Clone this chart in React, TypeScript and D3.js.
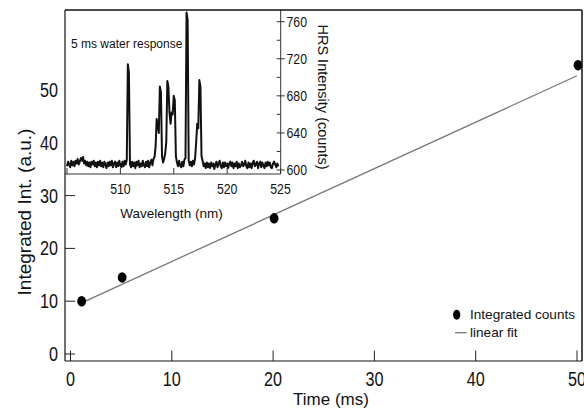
import React from "react";
import * as d3 from "d3";

// ---- Main chart data ----
const timeMs = [1.1, 5.1, 20.1, 50.1];
const integratedCounts = [10.0, 14.5, 25.7, 54.7];
const fitTime = [1, 50];
const fitValue = [9.6, 52.7];
const mainXTicks = [0, 10, 20, 30, 40, 50];
const mainYTicks = [0, 10, 20, 30, 40, 50];

// ---- Inset spectrum data ----
const wlStart = 505.0;
const wlStep = 0.1;
const hrsCounts = [
  604, 609, 606, 603, 610, 605, 609, 604, 610, 607, 612, 606, 609, 613, 610,
  614, 607, 610, 605, 609, 604, 608, 603, 609, 606, 610, 604, 608, 603, 609,
  605, 610, 604, 608, 603, 609, 606, 602, 608, 604, 609, 605, 610, 603, 607,
  609, 603, 608, 604, 610, 605, 603, 609, 604, 610, 606, 611,
  714, 705,
  606,
  603, 609, 604, 608, 602, 609, 605, 610, 603, 607, 604, 610, 605, 603, 609,
  604, 610, 603, 608, 611, 605, 612, 614,
  625, 655, 648, 640, 690, 684, 615, 608, 612, 618, 630, 696, 690, 662, 650, 662, 660, 680, 675, 615, 608,
  604, 610, 605, 603, 609, 604, 611,
  613, 770, 762, 610,
  605, 609, 604, 610, 606, 613,
  630, 650, 645, 697, 690, 615,
  610, 604, 607, 602, 608, 603, 607, 602, 608, 604, 607, 601, 606, 609, 603, 607, 610, 604, 602, 608,
  603, 608, 604, 607, 602, 607, 609, 604, 608, 602, 607, 604, 609, 602, 607, 603, 605, 609, 604, 606,
  610, 604, 602, 608, 603, 607, 602, 608, 610, 604, 606, 609, 602, 607, 609, 603, 608, 605, 602, 608,
  604, 609, 605, 608, 603, 602, 607, 609, 606, 603, 607, 604,
];
const insetXTicks = [505, 510, 515, 520, 525];
const insetXLabels = [510, 515, 520, 525];
const insetYMajor = [600, 640, 680, 720, 760];
const insetYMinor = [620, 660, 700, 740];

const FONT = "'Liberation Sans', Arial, Helvetica, sans-serif";

export default function App() {
  const W = 584, H = 409;
  const left = 65, top = 10, right = 582, bottom = 361;
  const x = d3.scaleLinear().domain([0, 50]).range([70.5, 577]);
  const y = d3.scaleLinear().domain([0, 50]).range([354, 90]);

  const iLeft = 65, iTop = 10, iRight = 280.7, iBottom = 174;
  const ix = d3.scaleLinear().domain([505, 525]).range([67, 280.5]);
  const iy = d3.scaleLinear().domain([600, 760]).range([170, 21.7]);

  const spectrum = hrsCounts.map((c, i) => [wlStart + i * wlStep, c] as [number, number]);
  const specLine = d3
    .line<[number, number]>()
    .x((d) => ix(d[0]))
    .y((d) => iy(d[1]))(spectrum);

  const fitPath = d3
    .line<number>()
    .x((d) => x(d))
    .y((_, i) => y(fitValue[i]))(fitTime);

  return (
    <svg width={W} height={H} style={{ position: "absolute", left: 0, top: 0, background: "#fff" }}>
      <path d={fitPath || ""} stroke="#777" strokeWidth={1.3} fill="none" />
      {timeMs.map((t, i) => (
        <ellipse key={i} cx={x(t)} cy={y(integratedCounts[i])} rx={4.4} ry={5.2} fill="#000" />
      ))}

      {mainYTicks.map((v) => (
        <line key={"yt" + v} x1={left} x2={left + 10} y1={y(v)} y2={y(v)} stroke="#222" strokeWidth={1} />
      ))}
      {mainXTicks.map((v) => (
        <line key={"xt" + v} x1={x(v)} x2={x(v)} y1={bottom} y2={bottom - 10.5} stroke="#222" strokeWidth={1} />
      ))}

      <rect x={iLeft} y={iTop} width={iRight - iLeft} height={iBottom - iTop} fill="#fff" />
      <path d={specLine || ""} stroke="#111" strokeWidth={2} fill="none" strokeLinejoin="round" />
      <line x1={iLeft} x2={iRight} y1={iBottom} y2={iBottom} stroke="#333" strokeWidth={1} />
      <line x1={iRight} x2={iRight} y1={iTop} y2={iBottom} stroke="#333" strokeWidth={1} />
      {insetXTicks.map((v) => (
        <line key={"ixt" + v} x1={ix(v)} x2={ix(v)} y1={iBottom} y2={iBottom - 6} stroke="#333" strokeWidth={1} />
      ))}
      {insetXLabels.map((v) => (
        <text
          key={"ixl" + v}
          x={ix(v)}
          y={193.5}
          fontFamily={FONT}
          fontSize={15}
          textAnchor="middle"
          fill="#111"
          textLength={20.5}
          lengthAdjust="spacingAndGlyphs"
        >
          {v}
        </text>
      ))}
      {insetYMajor.map((v) => (
        <line key={"iym" + v} x1={iRight - 4} x2={iRight + 4} y1={iy(v)} y2={iy(v)} stroke="#333" strokeWidth={1} />
      ))}
      {insetYMinor.map((v) => (
        <line key={"iyn" + v} x1={iRight - 4} x2={iRight} y1={iy(v)} y2={iy(v)} stroke="#333" strokeWidth={1} />
      ))}
      {insetYMajor.map((v) => (
        <text
          key={"iyl" + v}
          x={286.5}
          y={iy(v) + 5.3}
          fontFamily={FONT}
          fontSize={15}
          fill="#111"
          textLength={20.5}
          lengthAdjust="spacingAndGlyphs"
        >
          {v}
        </text>
      ))}
      <text x={71} y={48.3} fontFamily={FONT} fontSize={12} fill="#111">
        5 ms water response
      </text>
      <text x={171.5} y={218} fontFamily={FONT} fontSize={13.5} textAnchor="middle" fill="#111">
        Wavelength (nm)
      </text>
      <text transform={`translate(318,97) rotate(90)`} fontFamily={FONT} fontSize={14.5} textAnchor="middle" fill="#111">
        HRS Intensity (counts)
      </text>

      <line x1={left} x2={left} y1={top} y2={bottom} stroke="#111" strokeWidth={1.2} />
      <line x1={left} x2={right} y1={bottom} y2={bottom} stroke="#111" strokeWidth={1.2} />
      <line x1={left} x2={right} y1={top} y2={top} stroke="#111" strokeWidth={1.5} />
      <line x1={right} x2={right} y1={top} y2={bottom} stroke="#111" strokeWidth={1.5} />

      {mainYTicks.map((v) => (
        <text
          key={"yl" + v}
          x={58}
          y={y(v) + 7}
          fontFamily={FONT}
          fontSize={19.5}
          textAnchor="end"
          fill="#111"
          textLength={String(v).length * 9}
          lengthAdjust="spacingAndGlyphs"
        >
          {v}
        </text>
      ))}
      {mainXTicks.map((v) => (
        <text
          key={"xl" + v}
          x={x(v)}
          y={386}
          fontFamily={FONT}
          fontSize={19.5}
          textAnchor="middle"
          fill="#111"
          textLength={String(v).length * 9}
          lengthAdjust="spacingAndGlyphs"
        >
          {v}
        </text>
      ))}
      <text x={331} y={405} fontFamily={FONT} fontSize={17} textAnchor="middle" fill="#111">
        Time (ms)
      </text>
      <text transform={`translate(31,212) rotate(-90)`} fontFamily={FONT} fontSize={19} textAnchor="middle" fill="#111">
        Integrated Int. (a.u.)
      </text>

      <ellipse cx={456.7} cy={314.7} rx={3.6} ry={5} fill="#000" />
      <text x={470} y={319.3} fontFamily={FONT} fontSize={13.6} fill="#111">
        Integrated counts
      </text>
      <line x1={455} x2={466.7} y1={332.7} y2={332.7} stroke="#777" strokeWidth={1.3} />
      <text x={470} y={337} fontFamily={FONT} fontSize={13.6} fill="#111">
        linear fit
      </text>
    </svg>
  );
}
